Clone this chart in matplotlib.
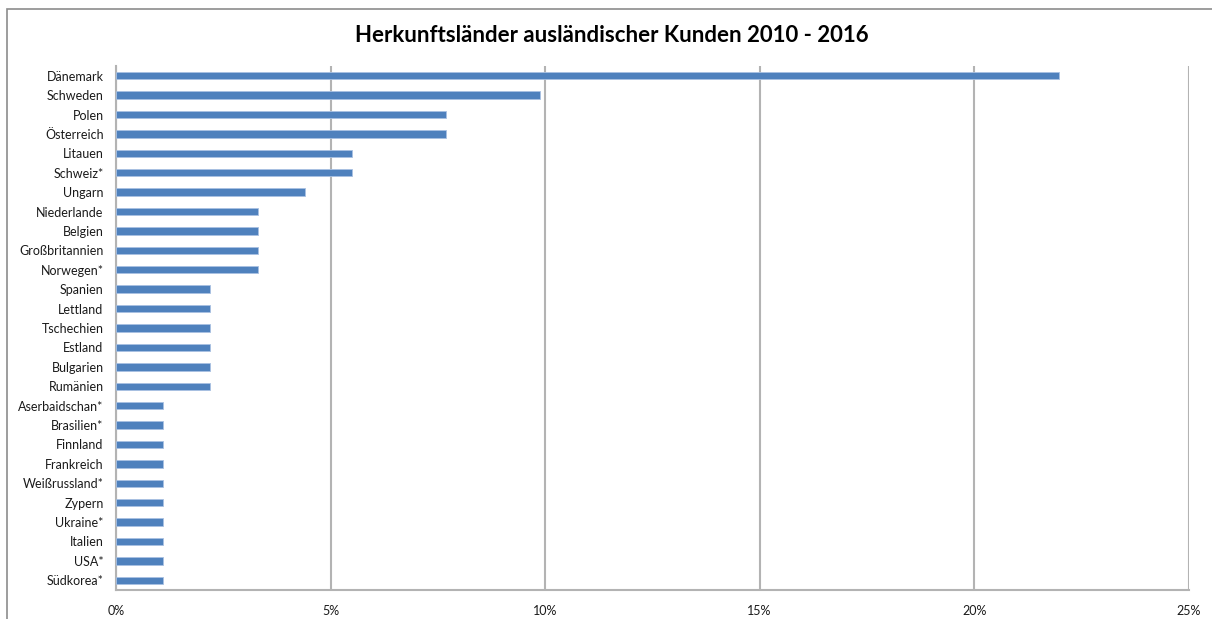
import matplotlib.pyplot as plt
from matplotlib.patches import Rectangle
from matplotlib.ticker import FuncFormatter

countries = ["Dänemark", "Schweden", "Polen", "Österreich", "Litauen", "Schweiz*",
             "Ungarn", "Niederlande", "Belgien", "Großbritannien", "Norwegen*",
             "Spanien", "Lettland", "Tschechien", "Estland", "Bulgarien", "Rumänien",
             "Aserbaidschan*", "Brasilien*", "Finnland", "Frankreich", "Weißrussland*",
             "Zypern", "Ukraine*", "Italien", "USA*", "Südkorea*"]
shares = [21.98, 9.89, 7.69, 7.69, 5.49, 5.49,
          4.40, 3.30, 3.30, 3.30, 3.30,
          2.20, 2.20, 2.20, 2.20, 2.20, 2.20,
          1.10, 1.10, 1.10, 1.10, 1.10,
          1.10, 1.10, 1.10, 1.10, 1.10]
x_ticks = [0, 5, 10, 15, 20, 25]

plt.rcParams['font.family'] = ['Lato', 'DejaVu Sans']

fig = plt.figure(figsize=(12.12, 6.19), dpi=100)
ax = fig.add_axes([116 / 1212, 1 - 590 / 619, (1188.7 - 116) / 1212, (590 - 66) / 619])

# outer chart border
fig.patches.append(Rectangle((7 / 1212, -0.1), 1.1, 1 - 9 / 619 + 0.1,
                             transform=fig.transFigure, fill=False,
                             edgecolor='#8c8c8c', linewidth=1.2))

ypos = list(range(len(countries)))
ax.barh(ypos, shares, height=0.38, color='#4f81bd', edgecolor='#a9c1e2',
        linewidth=0.6, zorder=3)

ax.set_xlim(0, 25)
ax.set_ylim(len(countries) - 0.5, -0.5)
ax.set_xticks(x_ticks)
ax.xaxis.set_major_formatter(FuncFormatter(lambda v, p: f"{v:.0f}%"))
ax.set_yticks(ypos)
ax.set_yticklabels(countries)
ax.tick_params(axis='both', length=0, labelsize=9, colors='#1a1a1a')
ax.tick_params(axis='y', pad=9)
ax.tick_params(axis='x', pad=11)

ax.grid(axis='x', color='#b3b3b3', linewidth=1.5, zorder=0)
for s in ['top', 'right']:
    ax.spines[s].set_visible(False)
for s in ['left', 'bottom']:
    ax.spines[s].set_color('#b3b3b3')
    ax.spines[s].set_linewidth(1.5)

fig.text(612 / 1212, 1 - 35 / 619, "Herkunftsländer ausländischer Kunden 2010 - 2016",
         ha='center', va='center', fontsize=16, fontweight='bold', color='#000000')

fig.savefig("out.png", dpi=100)
